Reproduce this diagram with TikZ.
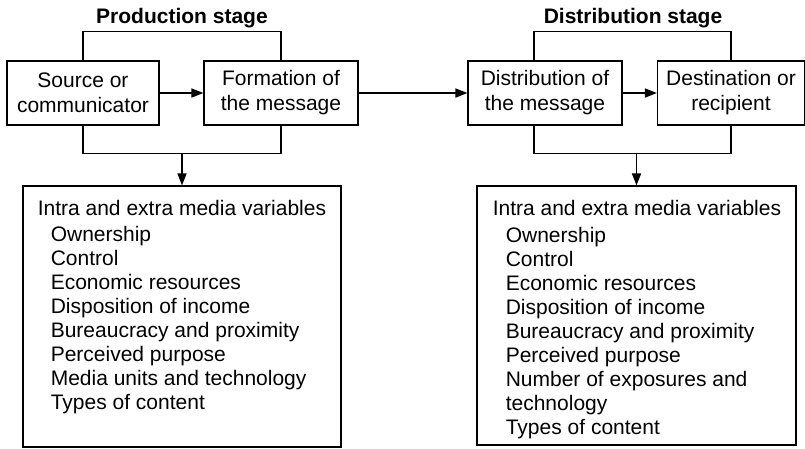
\documentclass[tikz,border=0pt]{standalone}
\usepackage{fontspec}
\setmainfont{Liberation Sans}
\usetikzlibrary{arrows.meta}

\begin{document}
\begin{tikzpicture}[x=1pt, y=-1pt, line width=1.6pt, >={Triangle[length=12pt,width=9pt]},
    stagebox/.style={draw, line width=1.2pt, minimum height=64pt, inner sep=0pt,
        align=center, font=\fontsize{21}{25}\selectfont},
    varbox/.style={draw, line width=1.2pt, inner sep=0pt},
    title/.style={font=\fontsize{21}{25}\selectfont\bfseries, anchor=base},
    item/.style={font=\fontsize{21}{25}\selectfont, anchor=base west, inner sep=0pt}]

                \useasboundingbox (0,0) rectangle (805,448);

                % stage headings
                \node[title] (prodT) at (182,23) {Production stage};
                \node[title] (distT) at (633,23) {Distribution stage};

                % the four stages
                \node[stagebox, minimum width=152pt] (src) at (83,93) {Source or\\communicator};
                \node[stagebox, minimum width=154pt] (form) at (281,93) {Formation of\\the message};
                \node[stagebox, minimum width=154pt] (dist) at (545,93) {Distribution of\\the message};
                \node[stagebox, minimum width=147pt] (dest) at (731,93) {Destination or\\recipient};

                \draw[->] (src) -- (form);
                \draw[->] (form) -- (dist);
                \draw[->] (dist) -- (dest);

                % brackets round each stage
                \draw (src.north) -- ++(0,-29) -| (form.north);
                \draw (src.south) -- ++(0,28) coordinate (botL) -| (form.south);
                \draw ([xshift=-11pt]dist.north) -- ++(0,-29) -| (dest.north);
                \draw ([xshift=-11pt]dist.south) -- ++(0,28) coordinate (botR) -| (dest.south);

                % variable boxes
                \node[varbox, minimum width=318pt, minimum height=261pt] (lowL) at (182,316.5) {};
                \node[varbox, minimum width=319pt, minimum height=259pt] (lowR) at (636.5,315.5) {};

                \draw[->] (botL -| lowL.north) -- (lowL.north);
                \draw[->] (botR -| lowR.north) -- (lowR.north);

                \node[item] (headL) at (37,215) {Intra and extra media variables};
                \node[item] (headR) at (492,215) {Intra and extra media variables};

                \foreach \t [count=\i] in {Ownership, Control, Economic resources,
                    Disposition of income, Bureaucracy and proximity, Perceived purpose,
                    Media units and technology, Types of content}
                    \node[item] (varL\i) at (50,{241+24*(\i-1)}) {\t};

                \foreach \t [count=\i] in {Ownership, Control, Economic resources,
                    Disposition of income, Bureaucracy and proximity, Perceived purpose,
                    Number of exposures and, technology, Types of content}
                    \node[item] (varR\i) at (505,{242+24*(\i-1)}) {\t};

\end{tikzpicture}
\end{document}
